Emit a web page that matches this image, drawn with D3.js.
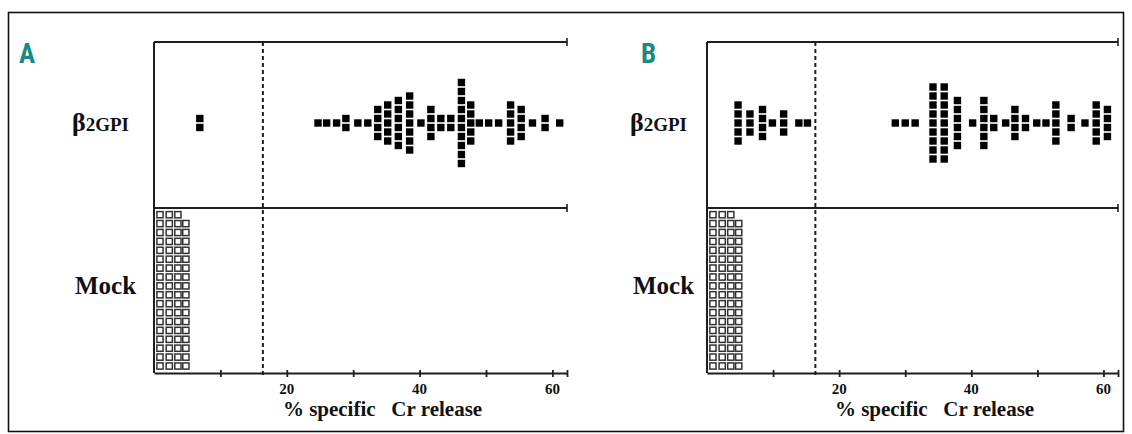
<!DOCTYPE html>
<html>
<head>
<meta charset="utf-8">
<script src="https://cdn.jsdelivr.net/npm/d3@7/dist/d3.min.js"></script>
<style>
  html, body { margin: 0; padding: 0; background: #fff; }
  svg { display: block; }
</style>
</head>
<body>
<svg id="chart" width="1132" height="434"></svg>
<script>
// Panel A: beta2GPI-stimulated samples (column value, number of stacked points)
const valuesA = [6.9, 24.7, 26.0, 27.5, 28.9, 30.7, 32.2, 33.7, 35.2, 36.8, 38.5, 40.2, 41.7, 43.2, 44.7, 46.3, 47.7, 49.0, 50.4, 51.9, 53.7, 55.3, 57.0, 58.9, 61.1];
const countsA = [2, 1, 1, 1, 2, 1, 1, 4, 5, 6, 7, 1, 4, 2, 2, 10, 5, 1, 1, 1, 5, 4, 1, 2, 1];

// Panel B: beta2GPI-stimulated samples
const valuesB = [4.7, 6.5, 8.4, 9.9, 11.6, 13.9, 15.2, 28.5, 30.0, 31.5, 34.2, 35.9, 37.9, 40.2, 41.9, 43.4, 45.2, 46.6, 48.2, 49.9, 51.3, 52.8, 55.1, 57.2, 58.9, 60.6];
const countsB = [5, 3, 4, 1, 3, 1, 1, 1, 1, 1, 9, 9, 6, 1, 6, 2, 1, 4, 2, 1, 1, 5, 2, 1, 5, 4];

// Mock-treated samples
const mockValuesA = [0.9, 2.3, 3.6, 4.8];
const mockCountsA = [18, 18, 18, 17];
const mockValuesB = [0.9, 2.3, 3.6, 4.8];
const mockCountsB = [18, 18, 18, 17];

// Axis settings
const xMax = 62.2;
const tickValues = [10, 20, 30, 40, 50, 60];
const tickLabels = [20, 40, 60];
const cutoff = 16.4;
const panelTags = ["A", "B"];
const rowLabels = ["β", "2GPI", "Mock"];
const axisTitle = "% specific   Cr release";

const SERIF = '"Liberation Serif", "Times New Roman", serif';
const NARROW = '"Liberation Sans Narrow", "Roboto Condensed", "Liberation Sans", sans-serif';

const svg = d3.select("#chart");
const ink = "#1e1e1e";

// outer frame
svg.append("rect")
  .attr("x", 8.5).attr("y", 12.5)
  .attr("width", 1115).attr("height", 419)
  .attr("fill", "none").attr("stroke", "#111").attr("stroke-width", 1.6);

function serifText(sel) {
  return sel.attr("font-family", SERIF).attr("font-weight", "bold").attr("fill", "#111");
}

function drawPanel(opt) {
  const g = svg.append("g");
  const x = d3.scaleLinear().domain([0, xMax]).range([opt.x0, opt.x1]);
  const top = 42, mid = 208, bottom = 373;
  const pitch = 9;

  // stacked-row scales
  const rowTop = d3.scaleLinear().domain([0, 1]).range([123, 123 - pitch]);
  const rowMock = d3.scaleLinear().domain([0, 1]).range([366, 366 - 8.9]);

  // frame lines
  g.append("line").attr("x1", opt.x0).attr("x2", opt.x0).attr("y1", top).attr("y2", bottom)
    .attr("stroke", ink).attr("stroke-width", 2);
  [top, mid].forEach(yy => {
    g.append("line").attr("x1", opt.x0).attr("x2", x(xMax)).attr("y1", yy).attr("y2", yy)
      .attr("stroke", ink).attr("stroke-width", 2);
    g.append("line").attr("x1", x(xMax)).attr("x2", x(xMax)).attr("y1", yy - 4).attr("y2", yy + 4)
      .attr("stroke", ink).attr("stroke-width", 1.6);
  });

  // bottom axis
  const axis = d3.axisBottom(x)
    .tickValues(tickValues.concat([xMax]))
    .tickSize(0)
    .tickFormat("");
  const ag = g.append("g").attr("transform", `translate(0,${bottom})`).call(axis);
  ag.select(".domain").attr("stroke", ink).attr("stroke-width", 2);
  ag.selectAll(".tick line").attr("y1", -3).attr("y2", 4).attr("stroke", ink).attr("stroke-width", 1.8);
  serifText(g.selectAll(".ticklab").data(tickLabels).enter().append("text"))
    .attr("x", d => x(d)).attr("y", bottom + 21)
    .attr("text-anchor", "middle").attr("font-size", 15)
    .text(d => d);

  // cutoff line
  g.append("line").attr("x1", x(cutoff)).attr("x2", x(cutoff)).attr("y1", top).attr("y2", bottom + 3)
    .attr("stroke", ink).attr("stroke-width", 2).attr("stroke-dasharray", "4,3");

  // beta2GPI dots (centred stacks)
  const pts = [];
  opt.values.forEach((v, i) => {
    const n = opt.counts[i];
    for (let k = 0; k < n; k++) pts.push({ v: v, r: k - (n - 1) / 2 });
  });
  g.selectAll(".dot").data(pts).enter().append("rect")
    .attr("x", d => x(d.v) - 3.7).attr("y", d => rowTop(d.r) - 3.7)
    .attr("width", 7.4).attr("height", 7.4)
    .attr("fill", "#000");

  // mock squares (bottom-aligned stacks)
  const mpts = [];
  opt.mockValues.forEach((v, i) => {
    for (let k = 0; k < opt.mockCounts[i]; k++) mpts.push({ v: v, r: k });
  });
  g.selectAll(".mock").data(mpts).enter().append("rect")
    .attr("x", d => x(d.v) - 3.1).attr("y", d => rowMock(d.r) - 3.1)
    .attr("width", 6.2).attr("height", 6.2)
    .attr("fill", "#fff").attr("stroke", "#333").attr("stroke-width", 1.5);

  // row labels
  const lab = serifText(g.append("text")).attr("x", opt.labelX).attr("y", 131);
  lab.append("tspan").attr("font-size", 26).text(rowLabels[0]);
  lab.append("tspan").attr("font-size", 19).text(rowLabels[1]);
  serifText(g.append("text")).attr("x", opt.labelX + 3).attr("y", 294)
    .attr("font-size", 25).text(rowLabels[2]);

  // axis title, sits right of the panel centre
  serifText(g.append("text"))
    .attr("x", (opt.x0 + x(xMax)) / 2 + 22).attr("y", 416)
    .attr("text-anchor", "middle").attr("font-size", 21)
    .attr("xml:space", "preserve").style("white-space", "pre")
    .text(axisTitle);

  // panel tag
  g.append("text")
    .attr("font-family", NARROW).attr("font-weight", "bold").attr("fill", "#1a8884")
    .attr("x", opt.tagX).attr("y", 63).attr("font-size", 27)
    .text(opt.tag);
}

drawPanel({ x0: 154, x1: 567, values: valuesA, counts: countsA,
  mockValues: mockValuesA, mockCounts: mockCountsA, labelX: 72, tagX: 19, tag: panelTags[0] });
drawPanel({ x0: 707, x1: 1118, values: valuesB, counts: countsB,
  mockValues: mockValuesB, mockCounts: mockCountsB, labelX: 630, tagX: 641, tag: panelTags[1] });
</script>
</body>
</html>
